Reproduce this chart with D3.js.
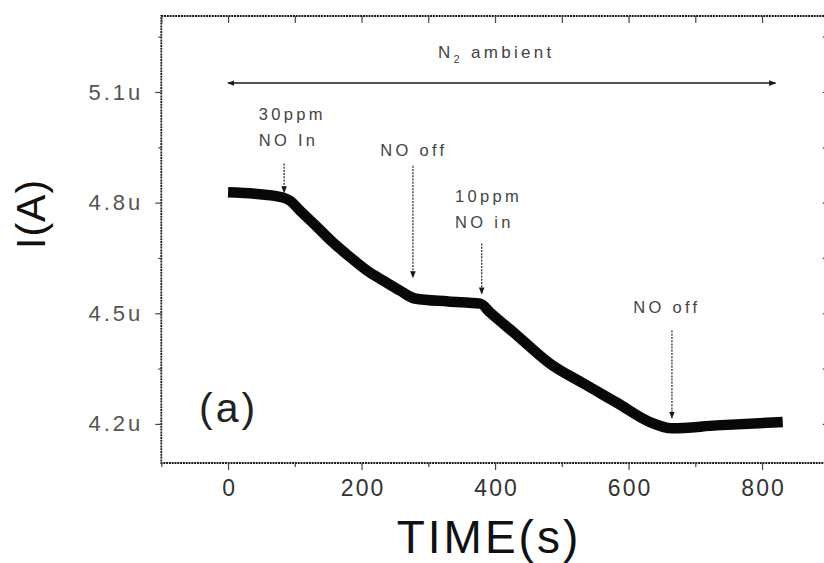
<!DOCTYPE html>
<html>
<head>
<meta charset="utf-8">
<script src="https://cdn.jsdelivr.net/npm/d3@7/dist/d3.min.js"></script>
<style>
  html, body { margin: 0; padding: 0; background: #fff; }
  svg { display: block; font-family: Arial, "Liberation Sans", sans-serif; }
</style>
</head>
<body>
<svg id="chart" width="824" height="563"></svg>
<script>
// ---- data ----
const timeS = [0, 40, 82, 93, 108, 130, 157, 183, 208, 233, 258, 280, 330, 378, 392, 433, 482, 532, 583, 632, 665, 732, 831];
const currentUA = [4.828, 4.824, 4.814, 4.805, 4.778, 4.74, 4.692, 4.652, 4.616, 4.588, 4.561, 4.540, 4.532, 4.526, 4.503, 4.44, 4.364, 4.31, 4.257, 4.205, 4.188, 4.196, 4.205];

const xTicks = [0, 200, 400, 600, 800];
const xMinor = [-100, 100, 300, 500, 700, 900];
const yTicks = [4.2, 4.5, 4.8, 5.1];
const yTickLabels = ["4.2u", "4.5u", "4.8u", "5.1u"];
const yMinor = [4.35, 4.65, 4.95, 5.25];

// event arrows: time, top value, bottom value
const eventTime = [84, 277, 380, 665];
const eventTop = [4.906, 4.900, 4.689, 4.453];
const eventBottom = [4.827, 4.597, 4.553, 4.216];
// event labels: lines, left time, baseline value of first line
const eventLabelLines = [["30ppm", "NO In"], ["NO off"], ["10ppm", "NO in"], ["NO off"]];
const eventLabelT = [46, 228, 340, 607];
const eventLabelV = [5.024, 4.926, 4.802, 4.501];

const ambientFrom = 0, ambientTo = 820, ambientV = 5.124;

// ---- layout ----
const svg = d3.select("#chart");
const pLeft = 161.3, pRight = 828.8, pTop = 16, pBottom = 463;
const x = d3.scaleLinear().domain([-100, 900]).range([pLeft, pRight]);
const y = d3.scaleLinear().domain([4.094, 5.306]).range([pBottom, pTop]);

const ink = "#1a1a1a";
const grey = "#444";

// frame
svg.append("rect")
  .attr("x", pLeft).attr("y", pTop)
  .attr("width", pRight - pLeft).attr("height", pBottom - pTop)
  .attr("fill", "none").attr("stroke", ink).attr("stroke-width", 1.8)
  .attr("stroke-dasharray", "2,0.8");

// axes ticks
const axB = d3.axisBottom(x).tickValues(xTicks).tickSize(7).tickPadding(8).tickFormat(d3.format("d"));
const gB = svg.append("g").attr("transform", `translate(0,${pBottom})`).call(axB);
gB.select(".domain").remove();
gB.selectAll("line").attr("stroke", grey).attr("stroke-width", 1.2);
gB.selectAll("text").attr("font-size", 23).attr("letter-spacing", 2).attr("fill", "#333")
  .attr("dx", 1).attr("dy", "0.8em");

const gBm = svg.append("g").attr("transform", `translate(0,${pBottom})`)
  .call(d3.axisBottom(x).tickValues(xMinor).tickSize(4).tickFormat(""));
gBm.select(".domain").remove();
gBm.selectAll("line").attr("stroke", grey).attr("stroke-width", 1.2);

const gT = svg.append("g").attr("transform", `translate(0,${pTop})`)
  .call(d3.axisBottom(x).tickValues(xTicks.concat(xMinor)).tickSize(7).tickFormat(""));
gT.select(".domain").remove();
gT.selectAll("line").attr("stroke", grey).attr("stroke-width", 1.2);

const axL = d3.axisLeft(y).tickValues(yTicks).tickSize(6).tickPadding(12)
  .tickFormat((d, i) => yTickLabels[i]);
const gL = svg.append("g").attr("transform", `translate(${pLeft},0)`).call(axL);
gL.select(".domain").remove();
gL.selectAll("line").attr("stroke", grey).attr("stroke-width", 1.2);
gL.selectAll("text").attr("font-size", 22).attr("letter-spacing", 3).attr("fill", "#555");

const gLm = svg.append("g").attr("transform", `translate(${pLeft},0)`)
  .call(d3.axisLeft(y).tickValues(yMinor).tickSize(3).tickFormat(""));
gLm.select(".domain").remove();
gLm.selectAll("line").attr("stroke", grey).attr("stroke-width", 1.2);

const gR = svg.append("g").attr("transform", `translate(${pRight},0)`)
  .call(d3.axisRight(y).tickValues(yTicks.concat(yMinor)).tickSize(-6).tickFormat(""));
gR.select(".domain").remove();
gR.selectAll("line").attr("stroke", grey).attr("stroke-width", 1.2);

// data line
const pts = timeS.map((t, i) => [t, currentUA[i]]);
svg.append("path")
  .datum(pts)
  .attr("d", d3.line().x(d => x(d[0])).y(d => y(d[1])).curve(d3.curveMonotoneX))
  .attr("fill", "none").attr("stroke", "#080808").attr("stroke-width", 10.5)
  .attr("stroke-linejoin", "round").attr("stroke-linecap", "butt");

// markers
const defs = svg.append("defs");
defs.append("marker").attr("id", "ah").attr("viewBox", "0 0 10 10")
  .attr("refX", 9).attr("refY", 5).attr("markerWidth", 7).attr("markerHeight", 7)
  .attr("markerUnits", "userSpaceOnUse").attr("orient", "auto-start-reverse")
  .append("path").attr("d", "M0,1 L10,5 L0,9 Z").attr("fill", ink);

// ambient arrow
svg.append("line")
  .attr("x1", x(ambientFrom)).attr("x2", x(ambientTo))
  .attr("y1", y(ambientV)).attr("y2", y(ambientV))
  .attr("stroke", ink).attr("stroke-width", 1.5)
  .attr("marker-start", "url(#ah)").attr("marker-end", "url(#ah)");

const amb = svg.append("text").attr("x", 438).attr("y", 58)
  .attr("font-size", 17).attr("letter-spacing", 3.3).attr("fill", "#444");
amb.append("tspan").text("N");
amb.append("tspan").attr("font-size", 11).attr("dy", 5).text("2");
amb.append("tspan").attr("dy", -5).text(" ambient");

// event arrows
eventTime.forEach((t, i) => {
  svg.append("line")
    .attr("x1", x(t)).attr("x2", x(t))
    .attr("y1", y(eventTop[i])).attr("y2", y(eventBottom[i]))
    .attr("stroke", "#333").attr("stroke-width", 1.3)
    .attr("stroke-dasharray", "2,1.2")
    .attr("marker-end", "url(#ah)");
});

// event labels
eventLabelLines.forEach((lines, i) => {
  const tx = svg.append("text")
    .attr("x", x(eventLabelT[i])).attr("y", y(eventLabelV[i]))
    .attr("font-size", 16.5).attr("letter-spacing", 3.3).attr("fill", "#444");
  lines.forEach((s, j) => {
    tx.append("tspan").attr("x", x(eventLabelT[i])).attr("dy", j === 0 ? 0 : 26).text(s);
  });
});

// panel label
svg.append("text").attr("x", 199).attr("y", 422)
  .attr("font-size", 41).attr("letter-spacing", 3).attr("fill", "#222").text("(a)");

// axis titles
svg.append("text").attr("x", 489).attr("y", 553).attr("text-anchor", "middle")
  .attr("font-size", 46).attr("letter-spacing", 3).attr("fill", "#111").text("TIME(s)");

svg.append("text").attr("transform", "translate(45,214) rotate(-90)")
  .attr("text-anchor", "middle")
  .attr("font-size", 41).attr("letter-spacing", 1).attr("fill", "#111").text("I(A)");
</script>
</body>
</html>
